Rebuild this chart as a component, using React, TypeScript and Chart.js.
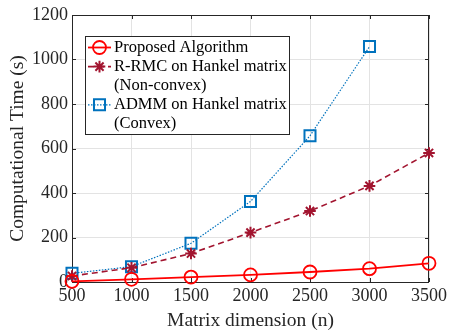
import React, { useEffect, useRef } from "react";
import { Chart, registerables } from "chart.js";

Chart.register(...registerables);

const dimensions = [500, 1000, 1500, 2000, 2500, 3000, 3500];
const proposedTimes = [3, 12, 22, 32, 45, 60, 84];
const rrmcTimes = [27, 64, 128, 222, 319, 432, 580];
const admmTimes = [39, 69, 174, 362, 657, 1058];
const legendLines = [
  ["Proposed Algorithm"],
  ["R-RMC on Hankel matrix", "(Non-convex)"],
  ["ADMM on Hankel matrix", "(Convex)"],
];
const xTitle = "Matrix dimension (n)";
const yTitle = "Computational Time (s)";

const FONT = "'Liberation Serif', 'Times New Roman', serif";
const TEXT = "#262626";

function drawMarker(ctx: CanvasRenderingContext2D, style: string, x: number, y: number, r: number) {
  ctx.beginPath();
  if (style === "circle") {
    ctx.arc(x, y, r, 0, Math.PI * 2);
  } else if (style === "rect") {
    const s = Math.SQRT1_2 * r;
    ctx.rect(x - s, y - s, 2 * s, 2 * s);
  } else if (style === "star") {
    ctx.moveTo(x, y - r);
    ctx.lineTo(x, y + r);
    ctx.moveTo(x - r, y);
    ctx.lineTo(x + r, y);
    const d = r * Math.SQRT1_2;
    ctx.moveTo(x - d, y - d);
    ctx.lineTo(x + d, y + d);
    ctx.moveTo(x - d, y + d);
    ctx.lineTo(x + d, y - d);
  }
  ctx.stroke();
}

const framePlugin = {
  id: "framePlugin",
  beforeDatasetsDraw(chart: any) {
    const ctx: CanvasRenderingContext2D = chart.ctx;
    const { left, right, top, bottom } = chart.chartArea;
    ctx.save();
    ctx.strokeStyle = TEXT;
    ctx.lineWidth = 1;
    ctx.setLineDash([]);
    ctx.strokeRect(left + 0.5, top + 0.5, right - left - 1, bottom - top);
    const xs = chart.scales.x;
    const ys = chart.scales.y;
    ctx.beginPath();
    xs.ticks.forEach((t: any) => {
      const px = Math.round(xs.getPixelForValue(t.value)) + 0.5;
      ctx.moveTo(px, bottom);
      ctx.lineTo(px, bottom - 4);
      ctx.moveTo(px, top);
      ctx.lineTo(px, top + 4);
    });
    ys.ticks.forEach((t: any) => {
      const py = Math.round(ys.getPixelForValue(t.value)) + 0.5;
      ctx.moveTo(left, py);
      ctx.lineTo(left + 4, py);
      ctx.moveTo(right, py);
      ctx.lineTo(right - 4, py);
    });
    ctx.stroke();
    ctx.restore();
  },
  afterDraw(chart: any) {
    const ctx: CanvasRenderingContext2D = chart.ctx;
    const { left, top } = chart.chartArea;
    ctx.save();
    const bx = left + 13;
    const by = top + 21;
    const bw = 204;
    const bh = 98;
    ctx.fillStyle = "#ffffff";
    ctx.fillRect(bx, by, bw, bh);
    ctx.strokeStyle = TEXT;
    ctx.lineWidth = 1;
    ctx.strokeRect(bx + 0.5, by + 0.5, bw, bh);
    ctx.font = `16.5px ${FONT}`;
    ctx.textBaseline = "middle";
    ctx.textAlign = "left";
    let lineY = by + 11.5;
    const lineGap = 19.1;
    chart.data.datasets.forEach((ds: any, i: number) => {
      const lines = legendLines[i];
      ctx.strokeStyle = ds.borderColor;
      ctx.lineWidth = ds.borderWidth;
      ctx.setLineDash(ds.borderDash || []);
      ctx.beginPath();
      ctx.moveTo(bx + 3, lineY);
      ctx.lineTo(bx + 26, lineY);
      ctx.stroke();
      ctx.setLineDash([]);
      ctx.lineWidth = ds.pointBorderWidth;
      ctx.strokeStyle = ds.pointBorderColor;
      drawMarker(ctx, ds.pointStyle, bx + 14.5, lineY, ds.pointRadius);
      ctx.fillStyle = "#000000";
      lines.forEach((ln: string) => {
        ctx.fillText(ln, bx + 29, lineY);
        lineY += lineGap;
      });
    });
    ctx.restore();
  },
};

export default function App() {
  const ref = useRef<HTMLCanvasElement | null>(null);
  useEffect(() => {
    document.body.style.margin = "0";
    if (!ref.current) return;
    const chart = new Chart(ref.current, {
      type: "line",
      data: {
        datasets: [
          {
            label: legendLines[0].join(" "),
            data: dimensions.map((x, i) => ({ x, y: proposedTimes[i] })),
            borderColor: "#ff0000",
            borderWidth: 1.8,
            pointStyle: "circle",
            pointRadius: 6.5,
            pointBorderColor: "#ff0000",
            pointBorderWidth: 1.8,
            pointBackgroundColor: "rgba(0,0,0,0)",
            tension: 0,
            clip: false,
          },
          {
            label: legendLines[1].join(" "),
            data: dimensions.map((x, i) => ({ x, y: rrmcTimes[i] })),
            borderColor: "#a2142f",
            borderWidth: 1.6,
            borderDash: [6, 4],
            pointStyle: "star",
            pointRadius: 5.8,
            pointBorderColor: "#a2142f",
            pointBorderWidth: 2,
            pointBackgroundColor: "rgba(0,0,0,0)",
            tension: 0,
            clip: false,
          },
          {
            label: legendLines[2].join(" "),
            data: admmTimes.map((y, i) => ({ x: dimensions[i], y })),
            borderColor: "#0072bd",
            borderWidth: 1.2,
            borderDash: [1.5, 1.5],
            pointStyle: "rect",
            pointRadius: 7.8,
            pointBorderColor: "#0072bd",
            pointBorderWidth: 2,
            pointBackgroundColor: "rgba(0,0,0,0)",
            tension: 0,
            clip: false,
          },
        ],
      },
      options: {
        animation: false,
        responsive: false,
        layout: { padding: { top: 15, right: 19, left: 0, bottom: 0 } },
        plugins: { legend: { display: false }, tooltip: { enabled: false } },
        scales: {
          x: {
            type: "linear",
            min: 500,
            max: 3500,
            afterFit: (s: any) => {
              s.height = 49;
            },
            ticks: {
              stepSize: 500,
              color: TEXT,
              font: { family: FONT, size: 18 },
              padding: 3,
              maxRotation: 0,
              callback: (v: any) => String(v),
            },
            grid: { color: "#e3e3e3", tickLength: 0, drawTicks: false },
            border: { display: false },
            title: {
              display: true,
              text: xTitle,
              color: TEXT,
              font: { family: FONT, size: 19.5, lineHeight: 1 },
              padding: { top: 0, bottom: 0 },
            },
          },
          y: {
            type: "linear",
            min: 0,
            max: 1200,
            afterFit: (s: any) => {
              s.width = 72;
            },
            ticks: {
              stepSize: 200,
              color: TEXT,
              font: { family: FONT, size: 18 },
              padding: 4,
              callback: (v: any) => String(v),
            },
            grid: { color: "#e3e3e3", tickLength: 0, drawTicks: false },
            border: { display: false },
            title: {
              display: true,
              text: yTitle,
              color: TEXT,
              font: { family: FONT, size: 19.5, lineHeight: 1 },
              padding: { top: 8, bottom: 0 },
            },
          },
        },
      },
      plugins: [framePlugin],
    });
    return () => chart.destroy();
  }, []);
  return <canvas ref={ref} width={450} height={331} style={{ display: "block" }} />;
}
